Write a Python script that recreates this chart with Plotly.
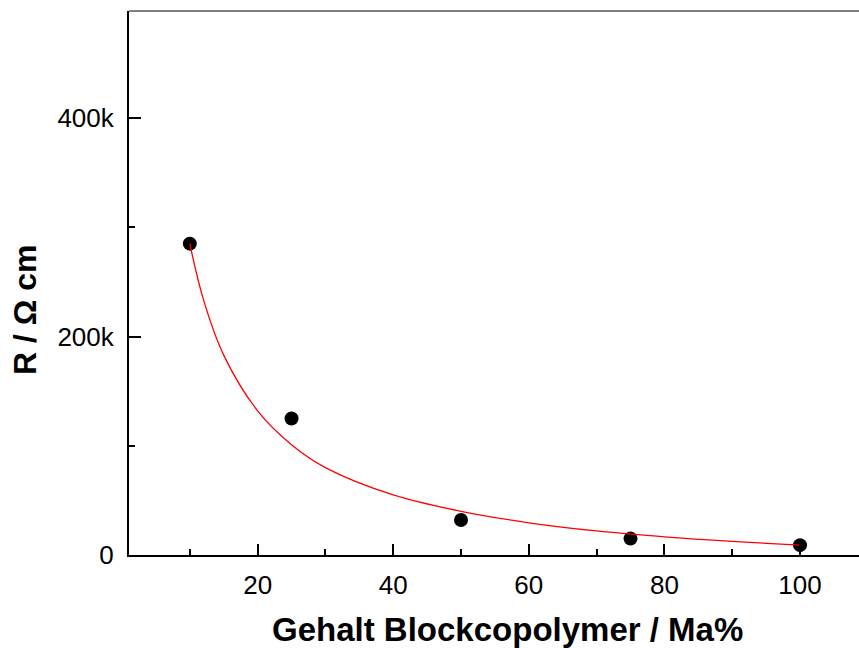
import plotly.graph_objects as go

# measured data points
content = [10, 25, 50, 75, 100]
resistance = [285000, 125000, 32000, 15000, 9000]

# fit curve values
fit_x = [10, 12, 15, 20, 25, 30, 40, 50, 60, 70, 80, 90, 100]
fit_y = [285000, 234000, 183000, 132000, 101000, 80000, 55000, 40000, 29500, 22000, 16600, 12400, 9000]

x_tickvals = [20, 40, 60, 80, 100]
x_ticktext = ["20", "40", "60", "80", "100"]
y_tickvals = [0, 200000, 400000]
y_ticktext = ["0", "200k", "400k"]

FONT = "Liberation Sans, Arial, sans-serif"

fig = go.Figure()
fig.add_trace(go.Scatter(x=content, y=resistance, mode="markers",
                         marker=dict(color="black", size=14, line=dict(width=0)), showlegend=False))
fig.add_trace(go.Scatter(x=fit_x, y=fit_y, mode="lines", line=dict(color="#ff0000", width=1.3, shape="spline"),
                         showlegend=False, hoverinfo="skip"))

fig.update_layout(
    width=859, height=648,
    margin=dict(l=129, r=0, t=11, b=93),
    plot_bgcolor="white", paper_bgcolor="white",
    font=dict(family=FONT, color="black"),
    xaxis=dict(range=[1.03, 108.7], tickvals=x_tickvals, ticktext=x_ticktext,
               ticks="inside", ticklen=11, tickwidth=2, tickcolor="black",
               showline=True, linecolor="black", linewidth=2, showgrid=False, zeroline=False,
               tickfont=dict(size=26, family=FONT), ticklabelstandoff=6,
               minor=dict(tickvals=[10, 30, 50, 70, 90], ticks="inside", ticklen=6, tickwidth=2, tickcolor="black")),
    yaxis=dict(range=[0, 498000], tickvals=y_tickvals, ticktext=y_ticktext,
               ticks="inside", ticklen=12, tickwidth=2, tickcolor="black",
               showline=True, linecolor="black", linewidth=2, showgrid=False, zeroline=False,
               tickfont=dict(size=26, family=FONT), ticklabelstandoff=8,
               minor=dict(tickvals=[100000, 300000], ticks="inside", ticklen=6, tickwidth=2, tickcolor="black")),
)

# top frame line (gray)
fig.add_shape(type="line", xref="paper", yref="paper", x0=0, x1=1, y0=1, y1=1,
              line=dict(color="#808080", width=2))

fig.add_annotation(text="<b>Gehalt Blockcopolymer / Ma%</b>", xref="paper", yref="paper",
                   x=(507 - 129) / 730, y=-(629 - 555) / 544, xanchor="center", yanchor="middle",
                   showarrow=False, font=dict(size=33, family=FONT, color="black"))
fig.add_annotation(text="<b>R / Ω cm</b>", xref="paper", yref="paper",
                   x=-(129 - 25) / 730, y=(555 - 310) / 544, xanchor="center", yanchor="middle",
                   textangle=-90, showarrow=False, font=dict(size=32, family=FONT, color="black"))

fig.write_html("out.html")
